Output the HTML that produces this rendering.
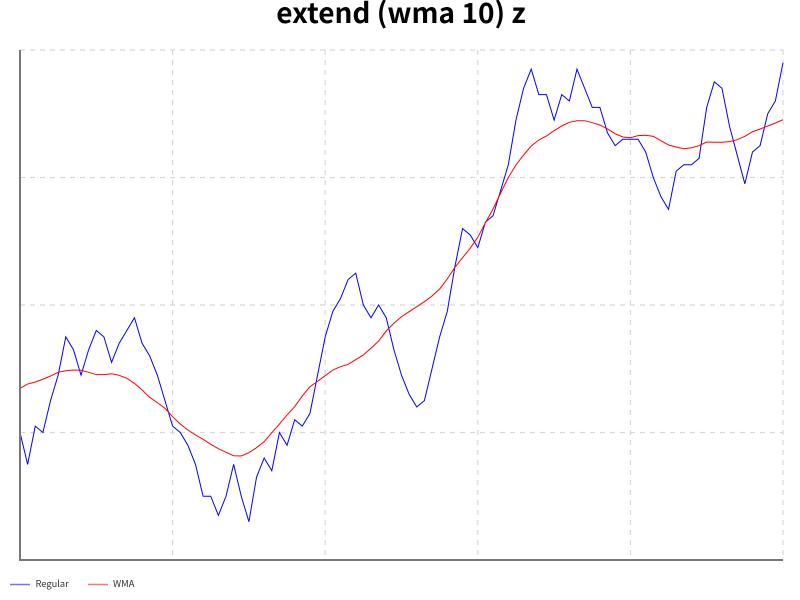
<!DOCTYPE html>
<html>
<head>
<meta charset="utf-8">
<title>extend (wma 10) z</title>
<style>
html,body{margin:0;padding:0;background:#fff;}
#chart{display:block;width:800px;height:600px;}
text{font-family:"Liberation Sans","Noto Sans CJK JP",sans-serif;}
.t{font-family:"Noto Sans CJK JP","Liberation Sans",sans-serif;}
</style>
</head>
<body>
<svg id="chart" width="800" height="600" viewBox="0 0 800 600" xmlns="http://www.w3.org/2000/svg">
  <rect x="0" y="0" width="800" height="600" fill="#ffffff"/>
  <text class="t" x="401" y="23" text-anchor="middle" font-size="28" font-weight="700" fill="#000">extend (wma 10) z</text>
  <g id="grid"></g>
  <g id="series"></g>
  <line x1="20" y1="50" x2="20" y2="560.5" stroke="#777" stroke-width="2"/>
  <line x1="19" y1="560" x2="783" y2="560" stroke="#777" stroke-width="2"/>
  <g>
    <g>
      <line x1="10" y1="584.5" x2="30" y2="584.5" stroke="#0000ff" stroke-opacity="0.55" stroke-width="1.4"/>
      <text class="t" x="35.5" y="587" font-size="9.3" fill="#333">Regular</text>
    </g>
    <g>
      <line x1="88" y1="584.5" x2="108" y2="584.5" stroke="#ff0000" stroke-opacity="0.55" stroke-width="1.4"/>
      <text class="t" x="113" y="587" font-size="9.3" fill="#333">WMA</text>
    </g>
  </g>
</svg>
<script>
const regularValues = [20,15,21,20,25,29,35,33,29,33,36,35,31,34,36,38,34,32,29,25,21,20,18,15,10,10,7,10,15,10,6,13,16,14,20,18,22,21,23,29,35,39,41,44,45,40,38,40,38,33,29,26,24,25,30,35,39,46,52,51,49,53,54,58,62,69,74,77,73,73,69,73,72,77,74,71,71,67,65,66,66,66,64,60,57,55,61,62,62,63,71,75,74,68,63.5,59,64,65,70,72,78];
const wmaValues = [26.93,27.6,27.92,28.35,28.86,29.44,29.69,29.8,29.76,29.44,29.07,29.07,29.22,28.97,28.5,27.72,26.67,25.52,24.67,23.8,22.48,21.33,20.39,19.61,18.93,18.15,17.46,16.89,16.36,16.31,16.83,17.62,18.56,19.97,21.33,22.75,24.05,25.73,27.18,28.03,28.91,29.8,30.32,30.7,31.42,32.16,33.21,34.35,35.92,37.13,38.16,38.95,39.73,40.52,41.41,42.51,44.08,45.91,47.42,48.89,50.62,52.91,55.06,57.57,60,61.96,63.53,64.94,65.88,66.51,67.34,68.08,68.66,68.91,68.91,68.6,68.24,67.61,66.87,66.35,66.24,66.56,66.62,66.46,65.77,65.1,64.78,64.52,64.67,64.99,65.57,65.52,65.52,65.62,65.93,66.46,67.18,67.61,68.08,68.55,69.07];
const xTickValues = [0,20,40,60,80,100];
const yTickValues = [0,20,40,60,80];

const plotLeft = 20, plotRight = 783, plotTop = 50, plotBottom = 560;
const xDomainMax = 100, yDomainMax = 80;
function xScale(v){ return plotLeft + (plotRight - plotLeft) * v / xDomainMax; }
function yScale(v){ return plotBottom - (plotBottom - plotTop) * v / yDomainMax; }

const NS = 'http://www.w3.org/2000/svg';
const grid = document.getElementById('grid');
const series = document.getElementById('series');

function gridLine(x1, y1, x2, y2){
  const l = document.createElementNS(NS, 'line');
  l.setAttribute('x1', x1);
  l.setAttribute('y1', y1);
  l.setAttribute('x2', x2);
  l.setAttribute('y2', y2);
  l.setAttribute('stroke', '#d8d8d8');
  l.setAttribute('stroke-width', '1.2');
  l.setAttribute('stroke-dasharray', '5 5');
  return l;
}

yTickValues.forEach(function(v){
  if (v === 0) return;
  const l = gridLine(plotLeft, yScale(v), plotRight, yScale(v));
  
  
  grid.appendChild(l);
});
xTickValues.forEach(function(v){
  if (v === 0) return;
  const l = gridLine(xScale(v), plotTop, xScale(v), plotBottom);
  
  
  grid.appendChild(l);
});

function linePoints(values){
  return values.map(function(v, i){
    return xScale(i).toFixed(2) + ',' + yScale(v).toFixed(2);
  }).join(' ');
}

const regularLine = document.createElementNS(NS, 'polyline');


regularLine.setAttribute('points', linePoints(regularValues));
regularLine.setAttribute('fill', 'none');
regularLine.setAttribute('stroke', '#0000ff');
regularLine.setAttribute('stroke-width', '1');
series.appendChild(regularLine);

const wmaLine = document.createElementNS(NS, 'polyline');


wmaLine.setAttribute('points', linePoints(wmaValues));
wmaLine.setAttribute('fill', 'none');
wmaLine.setAttribute('stroke', '#ff0000');
wmaLine.setAttribute('stroke-width', '1');
series.appendChild(wmaLine);
</script>
</body>
</html>
